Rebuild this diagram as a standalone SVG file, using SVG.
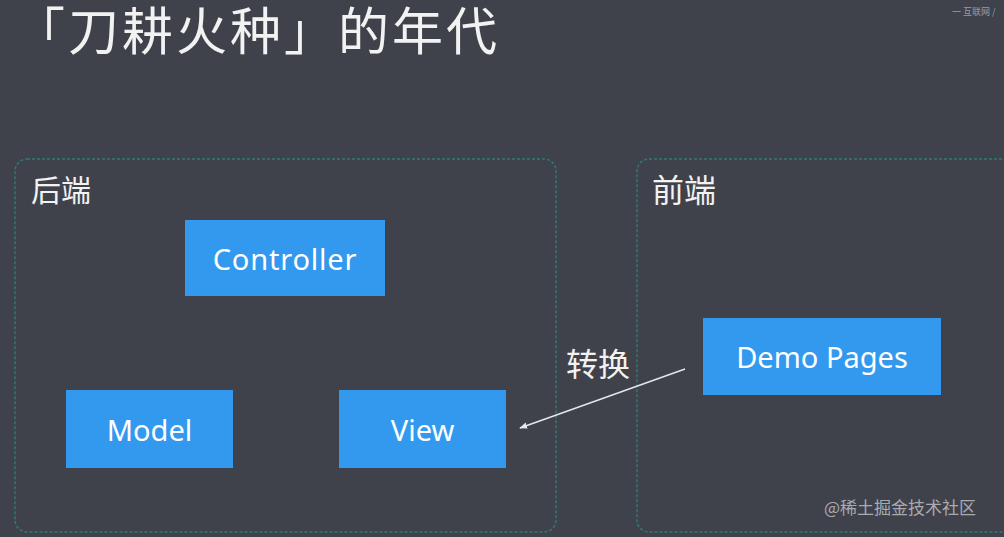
<svg xmlns="http://www.w3.org/2000/svg" width="1004" height="537" viewBox="0 0 1004 537">
<defs>
<style>
.cjk{font-family:"Noto Sans CJK SC","Noto Sans",sans-serif;fill:#f2f2f2}
.box{fill:none;stroke:#2f7a70;stroke-width:1.5;stroke-dasharray:3 2}
.node rect{fill:#3399ee}
.node text{font-family:"Noto Sans","Open Sans",sans-serif;font-size:29px;fill:#ffffff;text-anchor:middle;dominant-baseline:central}
.conn{stroke:#e6e6e6;stroke-width:1.6;fill:none}
</style>
<marker id="ah" viewBox="0 0 10 10" refX="9" refY="5" markerWidth="5" markerHeight="5" orient="auto">
<path d="M0,1 L10,5 L0,9 z" fill="#e6e6e6"/>
</marker>
</defs>
<rect width="1004" height="537" fill="#40424b"/>
<text class="cjk" x="14" y="50" font-size="51" letter-spacing="3">「刀耕火种」的年代</text>
<text class="cjk" x="952" y="15" font-size="9" style="fill:#9a9ca3">一 互联网 /</text>
<g id="backend">
<rect class="box" x="15" y="159" width="541" height="373" rx="12"/>
<text class="cjk" x="31" y="201" font-size="30">后端</text>
</g>
<g id="frontend">
<rect class="box" x="637" y="159" width="380" height="373" rx="12"/>
<text class="cjk" x="652" y="202" font-size="32">前端</text>
</g>
<g id="controller" class="node"><rect x="185" y="220" width="200" height="76"/><text x="285" y="258" letter-spacing="0.8">Controller</text></g>
<g id="model" class="node"><rect x="66" y="390" width="167" height="78"/><text x="149.5" y="429">Model</text></g>
<g id="view" class="node"><rect x="339" y="390" width="167" height="78"/><text x="422.5" y="429">View</text></g>
<g id="demo" class="node"><rect x="703" y="318" width="238" height="77"/><text x="822" y="356">Demo Pages</text></g>
<g id="connectors">
<line class="conn" x1="685" y1="369" x2="520" y2="428" marker-end="url(#ah)"/>
<text class="cjk" x="566" y="376" font-size="32">转换</text>
</g>
<text class="cjk" x="824" y="514" font-size="17" style="fill:#a8aab0">@稀土掘金技术社区</text>
</svg>
